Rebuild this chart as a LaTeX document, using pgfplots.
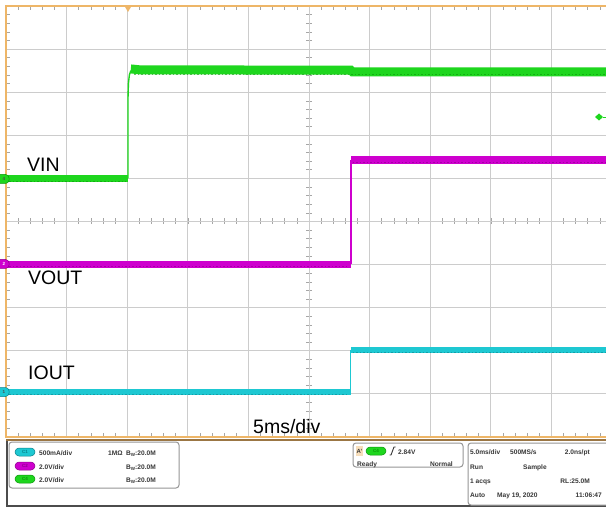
\documentclass[border=0pt]{standalone}
\usepackage{pgfplots}
\pgfplotsset{compat=1.18}
\usepackage{fontspec}
\setmainfont{Liberation Sans}
\definecolor{bord}{RGB}{238,182,104}
\definecolor{vgreen}{RGB}{30,214,30}
\definecolor{dgreen}{RGB}{10,150,10}
\definecolor{vmag}{RGB}{206,0,206}
\definecolor{dmag}{RGB}{140,0,140}
\definecolor{vcyan}{RGB}{30,200,210}
\definecolor{dcyan}{RGB}{10,130,140}
\definecolor{gridc}{RGB}{204,204,204}
\definecolor{boxc}{RGB}{150,150,150}
\definecolor{txt}{RGB}{55,55,55}
\begin{document}
\begin{tikzpicture}
\useasboundingbox (0,0) rectangle (606pt,507pt);
\clip (0,0) rectangle (606pt,507pt);
\fill[white] (0,0) rectangle (606pt,507pt);
\begin{scope}[x=1pt,y=-1pt,yshift=507pt]
  % centre-cross minor ticks (drawn below the traces)
  \foreach \k in {1,...,49} {
    \draw[black!35, line width=0.6pt] ({6+\k*12.12},218.5) -- ({6+\k*12.12},224.5);
    \draw[black!35, line width=0.6pt] (306,{6+\k*8.62}) -- (312,{6+\k*8.62});
  }
\end{scope}
\begin{axis}[
  at={(6pt,70pt)}, anchor=south west,
  width=606pt, height=431pt, scale only axis,
  xmin=0, xmax=50, ymin=-5, ymax=5,
  xtick={0,5,...,50}, ytick={-5,-4,...,5},
  xticklabels={}, yticklabels={},
  grid=major, major grid style={draw=gridc, line width=0.9pt},
  minor x tick num=4, minor y tick num=4,
  tick align=inside, major tick length=0pt, minor tick length=4pt,
  minor tick style={draw=black!35, line width=0.6pt},
  axis line style={draw=bord, line width=1.8pt},
]
% IOUT (cyan)
\addplot[vcyan, line width=6pt, forget plot] coordinates {(0,-3.95) (28.45,-3.95)};
\addplot[vcyan, line width=1.2pt, forget plot] coordinates {(28.45,-3.95) (28.45,-2.98)};
\addplot[vcyan, line width=6pt, forget plot] coordinates {(28.45,-2.98) (50,-2.98)};
\addplot[dcyan, line width=0.8pt, dash pattern=on 1.5pt off 2pt, opacity=0.6, forget plot] coordinates {(0,-4.0) (28.3,-4.0)};
\addplot[dcyan, line width=0.8pt, dash pattern=on 1.5pt off 2pt, opacity=0.6, forget plot] coordinates {(28.6,-3.03) (50,-3.03)};
% VOUT (magenta)
\addplot[vmag, line width=7pt, forget plot] coordinates {(0,-0.99) (28.47,-0.99)};
\addplot[vmag, line width=1.2pt, forget plot] coordinates {(28.47,-0.99) (28.47,1.43)};
\addplot[vmag, line width=8pt, forget plot] coordinates {(28.47,1.43) (50,1.43)};
\addplot[dmag, line width=0.8pt, dash pattern=on 1.5pt off 2pt, opacity=0.6, forget plot] coordinates {(0,-1.05) (28.3,-1.05)};
\addplot[dmag, line width=0.8pt, dash pattern=on 1.5pt off 2pt, opacity=0.6, forget plot] coordinates {(28.6,1.36) (50,1.36)};
% VIN (green)
\addplot[vgreen, line width=7pt, forget plot] coordinates {(0,1.0) (10.07,1.0)};
\addplot[vgreen, line width=1.4pt, forget plot] coordinates {(10.07,1.0) (10.07,2.9) (10.1,3.2) (10.18,3.4) (10.3,3.5)};
\addplot[vgreen, line width=9pt, forget plot] coordinates {(10.3,3.54) (11,3.52) (28.45,3.51) (28.6,3.47) (50,3.47)};
\addplot[dgreen, line width=0.8pt, dash pattern=on 1.5pt off 2pt, opacity=0.6, forget plot] coordinates {(0,0.94) (9.9,0.94)};
\addplot[dgreen, line width=0.8pt, dash pattern=on 1.5pt off 2pt, opacity=0.6, forget plot] coordinates {(10.6,3.41) (50,3.41)};
\end{axis}
\begin{scope}[x=1pt,y=-1pt,yshift=507pt]
  % trigger position marker
  \fill[bord] (124.5,6) -- (131.5,6) -- (128,12) -- cycle;
  % trigger level marker
  \fill[vgreen] (595,117) -- (599,113.5) -- (603,117) -- (599,120.5) -- cycle;
  \draw[vgreen, line width=0.8pt] (603,117) -- (606,117);
  % ground markers
  \filldraw[fill=vgreen, draw=dgreen, rounded corners=3.5pt, line width=0.5pt] (-4,174.5) rectangle (9,183.5);
  \node[font=\fontsize{4.5}{5}\selectfont\bfseries, text=black!70] at (4,179) {4};
  \filldraw[fill=vmag, draw=dmag, rounded corners=3.5pt, line width=0.5pt] (-4,259.5) rectangle (9,268.5);
  \node[font=\fontsize{4.5}{5}\selectfont\bfseries, text=white] at (4,264) {2};
  \filldraw[fill=vcyan, draw=dcyan, rounded corners=3.5pt, line width=0.5pt] (-4,387.5) rectangle (9,396.5);
  \node[font=\fontsize{4.5}{5}\selectfont\bfseries, text=black!70] at (4,392) {1};
  % labels
  \begin{scope}[every node/.style={anchor=base west, inner sep=0pt, font=\fontsize{19.5}{20}\selectfont}]
    \node at (27,172) {VIN};
    \node at (28,285) {VOUT};
    \node at (28,379) {IOUT};
    \node at (253,433) {5ms/div};
  \end{scope}
  % bottom of graticule
  \draw[black!35!bord, line width=1.2pt] (6,440) -- (612,440);
  % panel frame
  \draw[black!70, line width=1.5pt] (7,441) -- (7,506) -- (612,506);
  % boxes
  \draw[boxc, line width=1pt, rounded corners=3pt, fill=white] (9,442) rectangle (179,488);
  \draw[boxc, line width=1pt, rounded corners=3pt, fill=white] (353,443) rectangle (463,467);
  \draw[boxc, line width=1pt, rounded corners=3pt, fill=white] (468,443) rectangle (616,505);
  % pills in left box
  \filldraw[fill=vcyan, draw=dcyan, rounded corners=4pt, line width=0.5pt] (15,448) rectangle (35,456);
  \filldraw[fill=vmag, draw=dmag, rounded corners=4pt, line width=0.5pt] (15,462) rectangle (35,470);
  \filldraw[fill=vgreen, draw=dgreen, rounded corners=4pt, line width=0.5pt] (15,475) rectangle (35,483);
  \begin{scope}[every node/.style={inner sep=0pt, font=\fontsize{4.5}{5}\selectfont\bfseries}]
    \node[text=dcyan] at (25,452) {C1};
    \node[text=dmag] at (25,466) {C2};
    \node[text=dgreen] at (25,479) {C4};
  \end{scope}
  \begin{scope}[every node/.style={anchor=base west, inner sep=0pt, text=txt, font=\fontsize{6.6}{7}\selectfont\bfseries}]
    \node at (39,455) {500mA/div};
    \node at (108,455) {1MΩ};
    \node at (126,455) {B\raisebox{-0.35ex}{\fontsize{4.5}{5}\selectfont W}:20.0M};
    \node at (39,469) {2.0V/div};
    \node at (126,469) {B\raisebox{-0.35ex}{\fontsize{4.5}{5}\selectfont W}:20.0M};
    \node at (39,482) {2.0V/div};
    \node at (126,482) {B\raisebox{-0.35ex}{\fontsize{4.5}{5}\selectfont W}:20.0M};
    % trigger box
    \node at (398,454) {2.84V};
    \node at (357,466) {Ready};
    \node[anchor=base east] at (453,466) {Normal};
    % right box
    \node at (470,454) {5.0ms/div};
    \node at (510,454) {500MS/s};
    \node[anchor=base east] at (590,454) {2.0ns/pt};
    \node at (470,469) {Run};
    \node at (523,469) {Sample};
    \node at (470,483) {1 acqs};
    \node[anchor=base east] at (590,483) {RL:25.0M};
    \node at (470,497) {Auto};
    \node at (497,497) {May 19, 2020};
    \node[anchor=base east] at (602,497) {11:06:47};
  \end{scope}
  % trigger badge
  \fill[bord!45] (356,446) rectangle (363,456);
  \node[inner sep=0pt, text=txt, font=\fontsize{6}{7}\selectfont\bfseries] at (359.5,451) {A'};
  \filldraw[fill=vgreen, draw=dgreen, rounded corners=4pt, line width=0.5pt] (366,447) rectangle (386,455);
  \node[inner sep=0pt, text=dgreen, font=\fontsize{4.5}{5}\selectfont\bfseries] at (376,451) {C4};
  \draw[txt, line width=0.9pt] (389.5,455) -- (391,455) -- (394,447) -- (395.5,447);
\end{scope}
\end{tikzpicture}
\end{document}
